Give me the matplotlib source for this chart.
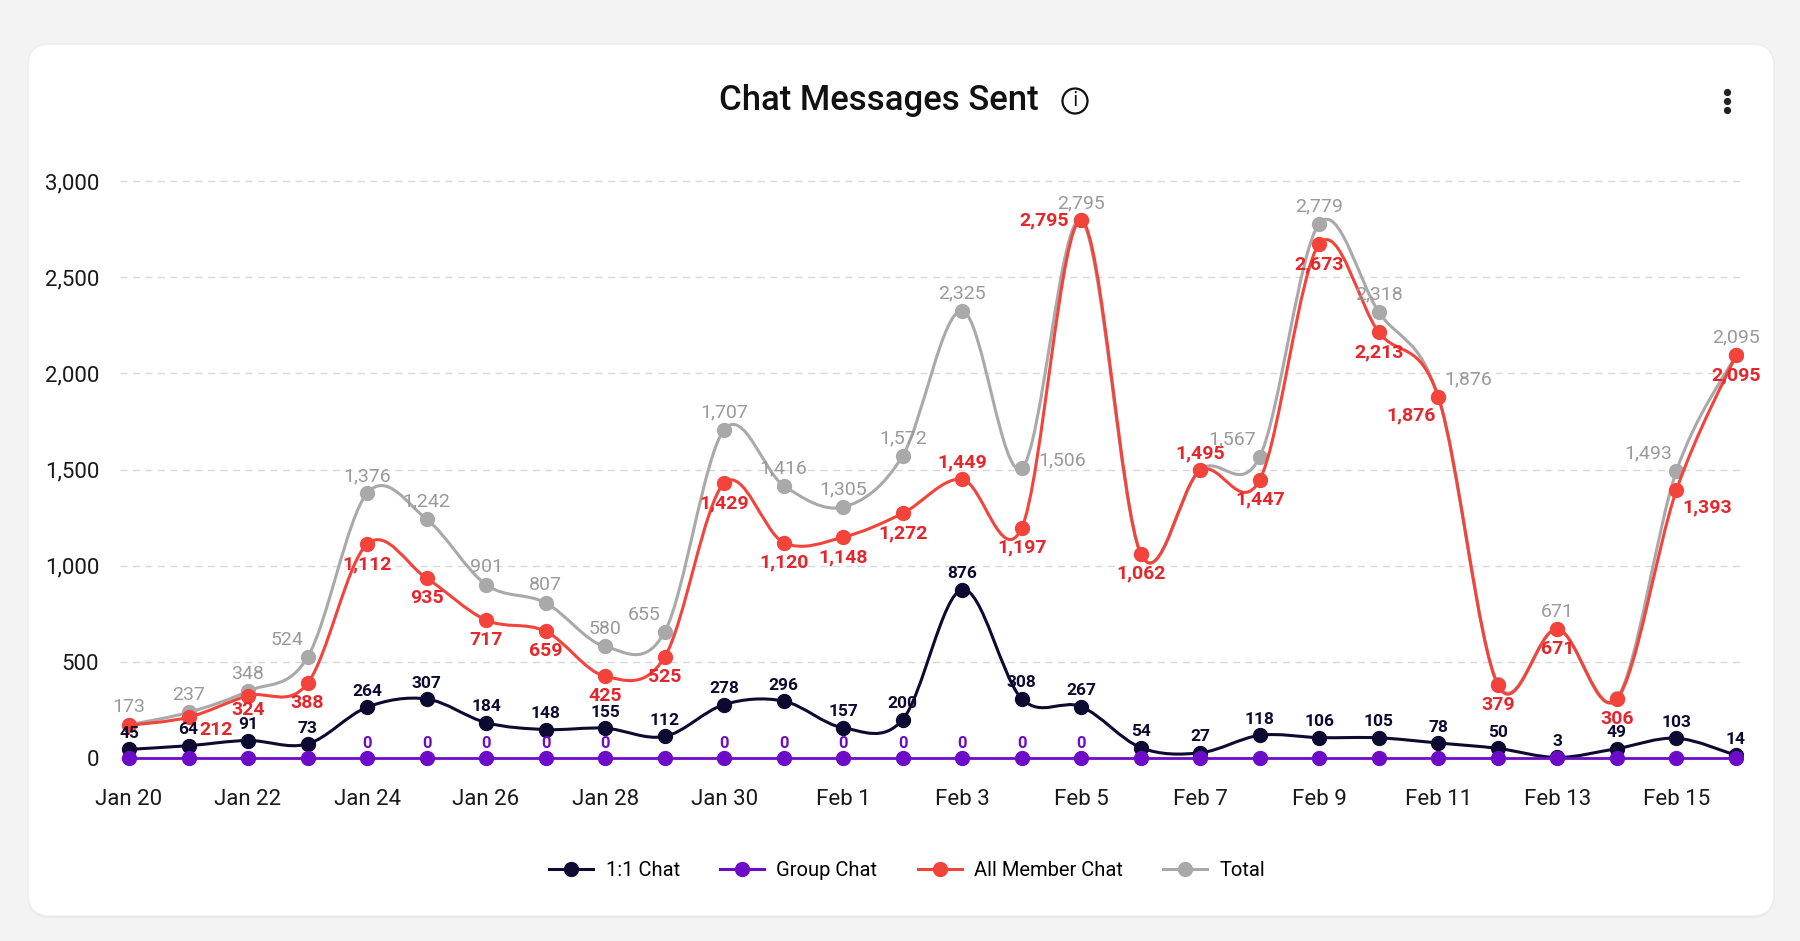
import matplotlib.pyplot as plt
import numpy as np
from matplotlib.path import Path
from matplotlib.patches import PathPatch, FancyBboxPatch, Circle
from matplotlib.lines import Line2D

plt.rcParams['font.family'] = ['Roboto', 'DejaVu Sans']

# ---- data ----
days = ["Jan 20", "Jan 21", "Jan 22", "Jan 23", "Jan 24", "Jan 25", "Jan 26",
        "Jan 27", "Jan 28", "Jan 29", "Jan 30", "Jan 31", "Feb 1", "Feb 2",
        "Feb 3", "Feb 4", "Feb 5", "Feb 6", "Feb 7", "Feb 8", "Feb 9",
        "Feb 10", "Feb 11", "Feb 12", "Feb 13", "Feb 14", "Feb 15", "Feb 16"]

one_to_one = [45, 64, 91, 73, 264, 307, 184, 148, 155, 112, 278, 296, 157, 200,
              876, 308, 267, 54, 27, 118, 106, 105, 78, 50, 3, 49, 103, 14]
group_chat = [0, 0, 0, 0, 0, 0, 0, 0, 0, 0, 0, 0, 0, 0,
              0, 0, 0, 0, 0, 0, 0, 0, 0, 0, 0, 0, 0, 0]
all_member = [170, 212, 324, 388, 1112, 935, 717, 659, 425, 525, 1429, 1120, 1148, 1272,
              1449, 1197, 2795, 1062, 1495, 1447, 2673, 2213, 1876, 379, 671, 306, 1393, 2095]
total = [173, 237, 348, 524, 1376, 1242, 901, 807, 580, 655, 1707, 1416, 1305, 1572,
         2325, 1506, 2795, 1062, 1500, 1567, 2779, 2318, 1876, 385, 671, 310, 1493, 2095]

yticks = [0, 500, 1000, 1500, 2000, 2500, 3000]

# which data labels are visible / where they sit
group_labelled = [4, 5, 6, 7, 8, 10, 11, 12, 13, 14, 15, 16]
total_hidden = [17, 18, 23, 25]
total_place = {3: "above_left", 9: "above_left", 15: "right_up", 19: "above_left",
               22: "above_right", 26: "above_left"}
member_place = {0: "left", 1: "below_side", 2: "below_tight", 14: "above", 16: "left",
                18: "above", 22: "below_left", 26: "below_right"}

NAVY = "#0c0a30"
PURPLE = "#6d0cc8"
RED = "#f4433b"
RED_TXT = "#e5262b"
GRAY = "#a9a9a9"
GRAY_TXT = "#9a9a9a"

OFFSETS = {
    "above": (0, 6, "center", "bottom"),
    "below": (0, -8, "center", "top"),
    "below_tight": (0, -4, "center", "top"),
    "below_side": (8, -3, "left", "top"),
    "left": (-9, 0, "right", "center"),
    "right": (9, 0, "left", "center"),
    "above_left": (-3, 6, "right", "bottom"),
    "above_right": (4, 6, "left", "bottom"),
    "right_up": (12, 6, "left", "center"),
    "below_left": (-2, -7, "right", "top"),
    "below_right": (4, -6, "left", "top"),
}


def smooth_path(x, y):
    # catmull-rom spline as cubic bezier segments
    x = np.asarray(x, float)
    y = np.asarray(y, float)
    n = len(x)
    verts = [(x[0], y[0])]
    codes = [Path.MOVETO]
    for i in range(n - 1):
        xa, ya = (x[i - 1], y[i - 1]) if i > 0 else (x[i], y[i])
        xd, yd = (x[i + 2], y[i + 2]) if i + 2 < n else (x[i + 1], y[i + 1])
        c1 = (x[i] + (x[i + 1] - xa) / 6, y[i] + (y[i + 1] - ya) / 6)
        c2 = (x[i + 1] - (xd - x[i]) / 6, y[i + 1] - (yd - y[i]) / 6)
        verts += [c1, c2, (x[i + 1], y[i + 1])]
        codes += [Path.CURVE4] * 3
    return Path(verts, codes)


def label(ax, x, y, where, color, size, weight="normal", clip=False):
    dx, dy, ha, va = OFFSETS[where]
    t = ax.annotate(f"{y:,}", (x, y), xytext=(dx, dy), textcoords="offset points",
                    ha=ha, va=va, color=color, fontsize=size, fontweight=weight,
                    zorder=10, annotation_clip=False)
    if clip:
        t.set_clip_path(ax.patch)
    return t


fig = plt.figure(figsize=(18, 9.41), dpi=100)
fig.patch.set_facecolor("#f3f3f3")

# white card with a soft shadow
shadow = FancyBboxPatch((0.28, 0.23), 17.46, 8.72, boxstyle="round,pad=0,rounding_size=0.22",
                        transform=fig.dpi_scale_trans, fc="#e9e9e9", ec="none", zorder=-2)
card = FancyBboxPatch((0.28, 0.25), 17.46, 8.72, boxstyle="round,pad=0,rounding_size=0.22",
                      transform=fig.dpi_scale_trans, fc="white", ec="#ededed", lw=1, zorder=-1)
fig.patches.extend([shadow, card])

fig.text(0.4883, 0.8937, "Chat Messages Sent", ha="center", va="center",
         fontsize=25, fontweight="medium", color="#111111")
fig.patches.append(Circle((10.75, 8.40), 0.125, transform=fig.dpi_scale_trans,
                          fc="none", ec="#111111", lw=1.6))
fig.text(10.75 / 18, 8.40 / 9.41, "i", ha="center", va="center", fontsize=14,
         color="#111111", family="DejaVu Sans")
for k in (-1, 0, 1):
    fig.lines.append(Line2D([17.27], [8.40 + k * 0.085], transform=fig.dpi_scale_trans,
                            marker="o", markersize=4.2, color="#222222", linestyle="none"))

ax = fig.add_axes([0.0667, 0.1822, 0.9017, 0.6561])
ax.set_facecolor("none")
x = np.arange(len(days))

series = [
    ("Total", total, GRAY, 2),
    ("All Member Chat", all_member, RED, 3),
    ("1:1 Chat", one_to_one, NAVY, 4),
]
for name, vals, col, z in series:
    ax.add_patch(PathPatch(smooth_path(x, vals), fc="none", ec=col, lw=2.2, zorder=z))
    ax.plot(x, vals, "o", color=col, markersize=10, zorder=z + 0.5)

ax.plot(x, group_chat, "-o", color=PURPLE, lw=2, markersize=10, zorder=6)

for i in range(len(days)):
    if i not in total_hidden:
        label(ax, i, total[i], total_place.get(i, "above"), GRAY_TXT, 14)
    label(ax, i, all_member[i], member_place.get(i, "below"), RED_TXT, 14,
          weight="bold", clip=(i == 0))
    label(ax, i, one_to_one[i], "above", NAVY, 12.5, weight="bold")
for i in group_labelled:
    ax.annotate(f"{group_chat[i]:,}", (i, group_chat[i]), xytext=(0, 5),
                textcoords="offset points", ha="center", va="bottom",
                color=PURPLE, fontsize=12, fontweight="bold", zorder=10)

ax.set_xlim(-0.15, 27.12)
ax.set_ylim(-60, 3150)
ax.set_yticks(yticks)
ax.set_yticklabels([f"{v:,}" for v in yticks])
ax.set_xticks(x[::2])
ax.set_xticklabels(days[::2])
ax.tick_params(axis="both", length=0, labelsize=16, labelcolor="#1a1a1a")
ax.tick_params(axis="y", pad=15)
ax.tick_params(axis="x", pad=14)
ax.grid(axis="y", color="#d8d8d8", linestyle=(0, (5, 4)), lw=1)
ax.set_axisbelow(True)
for s in ax.spines.values():
    s.set_visible(False)

handles = [Line2D([], [], color=NAVY, marker="o", markersize=10, lw=2.2),
           Line2D([], [], color=PURPLE, marker="o", markersize=10, lw=2.2),
           Line2D([], [], color=RED, marker="o", markersize=10, lw=2.2),
           Line2D([], [], color=GRAY, marker="o", markersize=10, lw=2.2)]
fig.legend(handles, ["1:1 Chat", "Group Chat", "All Member Chat", "Total"],
           loc="center", bbox_to_anchor=(0.504, 0.0745), ncol=4, frameon=False,
           fontsize=14.5, handlelength=2.2, columnspacing=2.0, handletextpad=0.6)

fig.savefig("out.png", dpi=100, facecolor=fig.get_facecolor())
